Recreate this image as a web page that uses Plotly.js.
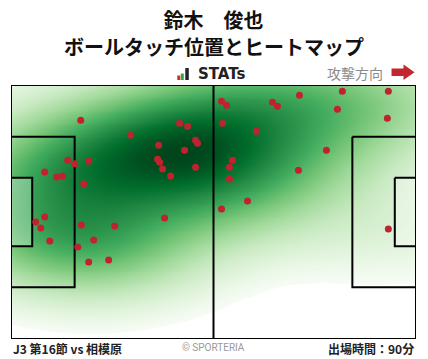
<!DOCTYPE html>
<html>
<head>
<meta charset="utf-8">
<script src="https://cdn.plot.ly/plotly-3.0.1.min.js"></script>
<style>
html,body{margin:0;padding:0;background:#fff;}
#chart{width:428px;height:359px;}
</style>
</head>
<body>
<div id="chart"></div>
<script>
// ---- data: ball touch positions (metres, x: own goal -> opponent goal, y: from top touchline) ----
const touchX = [18.07,31.02,14.71,16.52,20.15,8.75,11.86,13.41,18.85,8.75,6.42,7.72,10.05,18.25,26.88,21.44,17.30,20.15,25.32,
  43.71,45.78,38.27,47.85,48.37,45.00,38.01,38.53,39.31,41.38,47.85,
  54.58,55.88,54.84,63.65,67.79,69.08,57.43,56.65,56.65,39.82,61.32,54.58,
  74.78,85.91,97.83,84.62,97.57,81.77,74.52,97.83];
const touchY = [9.43,13.44,20.12,21.11,20.38,23.32,24.66,24.39,26.53,35.35,36.68,38.28,41.76,37.48,37.75,41.49,43.36,47.37,46.83,
  10.23,11.03,16.11,14.77,15.58,17.45,19.85,20.65,22.52,24.39,21.99,
  4.35,5.42,10.23,12.37,4.62,5.69,20.12,21.99,25.19,35.61,31.07,33.21,
  2.75,1.68,1.68,6.49,8.90,17.45,22.79,38.55];

const titleLines = ["鈴木　俊也", "ボールタッチ位置とヒートマップ"];
const matchLabel = "J3 第16節 vs 相模原";
const minutesLabel = "出場時間：90分";
const creditLabel = "© SPORTERIA";
const directionLabel = "攻撃方向";
const brandLabel = "STATs";

// pitch geometry (metres)
const PL = 105, PW = 68, PBOX_D = 16.5, PBOX_W = 40.32, GBOX_D = 5.5, GBOX_W = 18.32;

// ---- product-Gaussian KDE (per-axis normal-reference bandwidth) from the touch points ----
function quantile(sorted, q) {
  const pos = (sorted.length - 1) * q, lo = Math.floor(pos), hi = Math.ceil(pos);
  return sorted[lo] + (sorted[hi] - sorted[lo]) * (pos - lo);
}
function scottBw(v) {
  const n = v.length, m = v.reduce((s, a) => s + a, 0) / n;
  const sd = Math.sqrt(v.reduce((s, a) => s + (a - m) * (a - m), 0) / n);
  const s = v.slice().sort((a, b) => a - b);
  const iqr = (quantile(s, 0.75) - quantile(s, 0.25)) / 1.349;
  return 1.059 * Math.min(sd, iqr) * Math.pow(n, -0.2);
}
function kdeGrid(xs, ys, nx, ny, cut, adj, gamma) {
  const n = xs.length;
  const bx = scottBw(xs) * adj, by = scottBw(ys) * adj;
  const x0 = Math.min(...xs) - cut * bx, x1 = Math.max(...xs) + cut * bx;
  const y0 = Math.min(...ys) - cut * by, y1 = Math.max(...ys) + cut * by;
  const gx = [], gy = [];
  for (let i = 0; i < nx; i++) gx.push(x0 + (x1 - x0) * i / (nx - 1));
  for (let j = 0; j < ny; j++) gy.push(y0 + (y1 - y0) * j / (ny - 1));
  const z = [];
  let mx = 0;
  for (let j = 0; j < ny; j++) {
    const row = [];
    for (let i = 0; i < nx; i++) {
      let s = 0;
      for (let k = 0; k < n; k++) {
        const dx = (gx[i] - xs[k]) / bx, dy = (gy[j] - ys[k]) / by;
        s += Math.exp(-0.5 * (dx * dx + dy * dy));
      }
      row.push(s);
      if (s > mx) mx = s;
    }
    z.push(row);
  }
  for (const row of z) for (let i = 0; i < row.length; i++) row[i] = Math.pow(row[i] / mx, gamma);
  return {gx, gy, z};
}

const GAMMA = 0.7;
const THRESH = Math.pow(0.016, GAMMA);
const kd = kdeGrid(touchX, touchY, 260, 200, 3, 1.45, GAMMA);

const greens = ['#f7fcf5','#e5f5e0','#c7e9c0','#a1d99b','#74c476','#41ab5d','#238b45','#006d2c','#00441b'];
const cscale = [[0, '#ffffff'], [THRESH - 0.0001, '#ffffff']];
greens.forEach((c, k) => cscale.push([Math.max(THRESH, k / (greens.length - 1)), c]));

const traces = [];
traces.push({
  type: 'heatmap', x: kd.gx, y: kd.gy, z: kd.z, zmin: 0, zmax: 1,
  colorscale: cscale, showscale: false, zsmooth: 'best', hoverinfo: 'skip'
});

function rectTrace(x0, y0, x1, y1, fill) {
  const t = {
    type: 'scatter', mode: 'lines', x: [x0, x1, x1, x0, x0], y: [y0, y0, y1, y1, y0],
    line: {color: '#000', width: 2}, hoverinfo: 'skip', showlegend: false
  };
  if (fill) { t.fill = 'toself'; t.fillcolor = fill; }
  return t;
}
const pbY0 = (PW - PBOX_W) / 2, pbY1 = (PW + PBOX_W) / 2;
const gbY0 = (PW - GBOX_W) / 2, gbY1 = (PW + GBOX_W) / 2;
traces.push(rectTrace(0, gbY0, GBOX_D, gbY1, 'rgba(255,255,255,0.3)'));
traces.push(rectTrace(PL - GBOX_D, gbY0, PL, gbY1, 'rgba(255,255,255,0.3)'));
traces.push(rectTrace(0, pbY0, PBOX_D, pbY1));
traces.push(rectTrace(PL - PBOX_D, pbY0, PL, pbY1));
traces.push({type: 'scatter', mode: 'lines', x: [PL / 2, PL / 2], y: [0, PW],
  line: {color: '#000', width: 2}, hoverinfo: 'skip', showlegend: false});
traces.push(rectTrace(0, 0, PL, PW));

traces.push({
  type: 'scatter', mode: 'markers', x: touchX, y: touchY, name: 'ボールタッチ',
  marker: {color: '#c0232f', size: 7, line: {width: 0}}, hoverinfo: 'skip', showlegend: false
});

// pixel -> paper helpers (plot area: x 10.5..416, y 85..339.5)
const PX0 = 10.5, PX1 = 416, PY0 = 85, PY1 = 339.5;
const px = v => (v - PX0) / (PX1 - PX0);
const py = v => (PY1 - v) / (PY1 - PY0);

const cjk = '"Noto Sans CJK JP", "Noto Sans", sans-serif';
const shapes = [
  {type: 'rect', xref: 'paper', yref: 'paper', x0: px(177), x1: px(180), y0: py(80), y1: py(75.5), fillcolor: '#d12b2b', line: {width: 0}},
  {type: 'rect', xref: 'paper', yref: 'paper', x0: px(180.5), x1: px(183.5), y0: py(80), y1: py(73.5), fillcolor: '#2aa84a', line: {width: 0}},
  {type: 'rect', xref: 'paper', yref: 'paper', x0: px(185), x1: px(188.5), y0: py(80), y1: py(68), fillcolor: '#222', line: {width: 0}},
  {type: 'path', xref: 'paper', yref: 'paper', fillcolor: '#c3262f', line: {width: 0},
   path: `M ${px(391.5)} ${py(68.5)} L ${px(403.5)} ${py(68.5)} L ${px(403.5)} ${py(64.5)} L ${px(414.5)} ${py(72.2)} L ${px(403.5)} ${py(80)} L ${px(403.5)} ${py(76)} L ${px(391.5)} ${py(76)} Z`}
];

const annotations = [
  {xref: 'paper', yref: 'paper', x: 0.5, y: py(46), xanchor: 'center', yanchor: 'middle', showarrow: false,
   text: '<b>' + titleLines[1] + '</b>', font: {family: cjk, size: 20, color: '#111'}},
  {xref: 'paper', yref: 'paper', x: px(196), y: py(74), xanchor: 'left', yanchor: 'middle', showarrow: false,
   text: '<b>' + brandLabel + '</b>', font: {family: '"DejaVu Sans", sans-serif', size: 15, color: '#222'}},
  {xref: 'paper', yref: 'paper', x: px(385), y: py(72.5), xanchor: 'right', yanchor: 'middle', showarrow: false,
   text: directionLabel, font: {family: cjk, size: 14, color: '#8a8a8a'}},
  {xref: 'paper', yref: 'paper', x: 0, y: py(349.5), xanchor: 'left', yanchor: 'middle', showarrow: false,
   text: '<b>' + matchLabel + '</b>', font: {family: cjk, size: 12, color: '#222'}},
  {xref: 'paper', yref: 'paper', x: 1, y: py(349.5), xanchor: 'right', yanchor: 'middle', showarrow: false,
   text: '<b>' + minutesLabel + '</b>', font: {family: cjk, size: 12, color: '#222'}},
  {xref: 'paper', yref: 'paper', x: px(213), y: py(348.5), xanchor: 'center', yanchor: 'middle', showarrow: false,
   text: creditLabel, font: {family: '"Roboto", sans-serif', size: 10, color: '#9a9a9a'}}
];

const layout = {
  width: 428, height: 359,
  margin: {l: PX0, r: 428 - PX1, t: PY0, b: 359 - PY1, pad: 0},
  paper_bgcolor: '#fff', plot_bgcolor: '#fff',
  title: {text: '<b>' + titleLines[0] + '</b>',
    font: {family: cjk, size: 20, color: '#111'},
    x: 0.5, xanchor: 'center', xref: 'paper', yref: 'container', y: 1 - 20.5 / 359, yanchor: 'middle'},
  xaxis: {range: [0, PL], visible: false, showgrid: false, zeroline: false, fixedrange: true},
  yaxis: {range: [PW, 0], visible: false, showgrid: false, zeroline: false, fixedrange: true},
  showlegend: false,
  shapes: shapes,
  annotations: annotations
};

Plotly.newPlot('chart', traces, layout, {displayModeBar: false, staticPlot: true});
</script>
</body>
</html>
